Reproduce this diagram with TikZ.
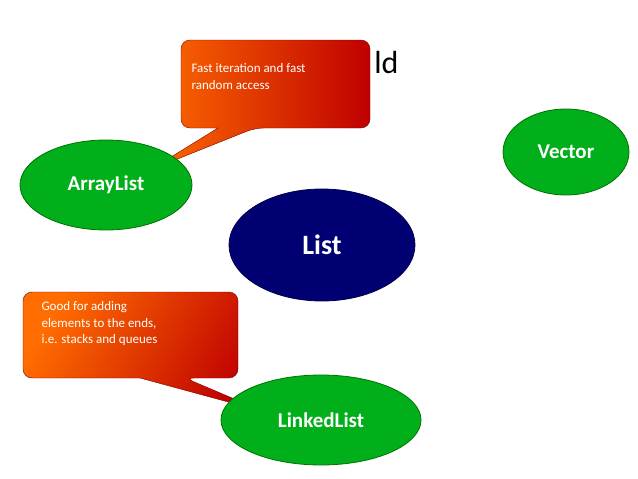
\documentclass[tikz,border=0pt]{standalone}
\usepackage{fontspec}
\setmainfont{Carlito}
\usetikzlibrary{shapes.geometric}
\begin{document}
\begin{tikzpicture}[
  x=1pt, y=-1pt,
  kreis/.style={
    shape=ellipse, draw=green!45!black, thick, fill=green!65!black!90!cyan,
    text=white, font=\bfseries\fontsize{21}{24}\selectfont
  },
  blase/.style={
    rounded corners=9pt, draw=red!50!black, shading angle=-60,
    left color=orange!85!red, right color=red!75!black
  },
  blasetext/.style={
    anchor=north west, align=left, text=white, font=\fontsize{13}{16.5}\selectfont
  }
]
\useasboundingbox (0,0) rectangle (638,479);

\node [anchor=east, font=\fontsize{32}{36}\selectfont] (titel) at (402,62) {ld};

% callout top
\path [blase] (181,40) -- (370,40) -- (370,128) -- (255,128)
  [sharp corners] -- (150,170) -- (218,128) [rounded corners=9pt] -- (181,128) -- cycle;
\node [blasetext] (t1) at (188,60) {Fast iteration and fast\\random access};

\node [kreis, minimum width=172, minimum height=90] (arraylist) at (106,185) {ArrayList};
\node [kreis, minimum width=126, minimum height=86] (vector) at (566,152) {Vector};
\node [kreis, draw=blue!30!black, fill=blue!45!black, minimum width=186, minimum height=112,
  font=\bfseries\fontsize{28}{32}\selectfont] (list) at (322,245) {List};

% callout bottom
\path [blase, shading angle=60] (23,292) -- (238,292) -- (238,378) -- (185,378)
  [sharp corners] -- (265,412) -- (140,378) [rounded corners=9pt] -- (23,378) -- cycle;
\node [blasetext] (t2) at (38,298) {Good for adding\\elements to the ends,\\i.e. stacks and queues};

\node [kreis, minimum width=200, minimum height=90] (linkedlist) at (321,420) {LinkedList};
\end{tikzpicture}
\end{document}
